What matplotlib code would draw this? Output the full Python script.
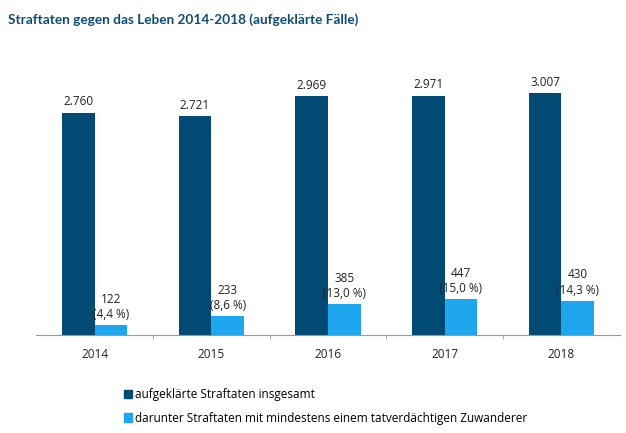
import numpy as np
import matplotlib.pyplot as plt
from matplotlib.patches import Patch

plt.rcParams['font.family'] = ['Open Sans', 'DejaVu Sans']

years = ["2014", "2015", "2016", "2017", "2018"]
total = [2760, 2721, 2969, 2971, 3007]
total_labels = ["2.760", "2.721", "2.969", "2.971", "3.007"]
migrants = [122, 233, 385, 447, 430]
migrant_labels = ["122\n(4,4 %)", "233\n(8,6 %)", "385\n(13,0 %)", "447\n(15,0 %)", "430\n(14,3 %)"]

dark = "#004a73"
light = "#1ea7ef"

fig = plt.figure(figsize=(6.26, 4.33), dpi=100)
ax = fig.add_axes([0.058, 0.226, 0.932, 0.635])

x = np.arange(len(years))
w = 0.28
ax.bar(x - w / 2, total, w, color=dark)
ax.bar(x + w / 2, migrants, w, color=light)

for xi, v, lab in zip(x, total, total_labels):
    ax.text(xi - w / 2, v + 60, lab, ha="center", va="bottom", fontsize=8.5, color="#222222")
for xi, v, lab in zip(x, migrants, migrant_labels):
    ax.text(xi + w / 2, v + 50, lab, ha="center", va="bottom", fontsize=8.5,
            color="#222222", linespacing=1.25)

ax.set_xlim(-0.5, len(years) - 0.5)
ax.set_ylim(0, 3420)
ax.set_yticks([])
ax.set_xticks(x)
ax.set_xticklabels(years, fontsize=8.5, color="#222222")
ax.tick_params(axis="x", which="major", length=0, pad=9)
ax.set_xticks(x[:-1] + 0.5, minor=True)
ax.tick_params(axis="x", which="minor", length=3, color="#999999")
for s in ["top", "right", "left"]:
    ax.spines[s].set_visible(False)
ax.spines["bottom"].set_color("#999999")

fig.text(0.013, 0.955, "Straftaten gegen das Leben 2014-2018 (aufgeklärte Fälle)",
         fontsize=9.8, fontweight="bold", color="#0e4d73", va="center",
         family=["Lato", "DejaVu Sans"])

handles = [Patch(color=dark, label="aufgeklärte Straftaten insgesamt"),
           Patch(color=light, label="darunter Straftaten mit mindestens einem tatverdächtigen Zuwanderer")]
fig.legend(handles=handles, loc="upper left", bbox_to_anchor=(0.19, 0.115), frameon=False,
           fontsize=8.5, handlelength=0.7, handleheight=0.7, handletextpad=0.3,
           labelspacing=0.9, borderaxespad=0)

fig.savefig("out.png", dpi=100)
